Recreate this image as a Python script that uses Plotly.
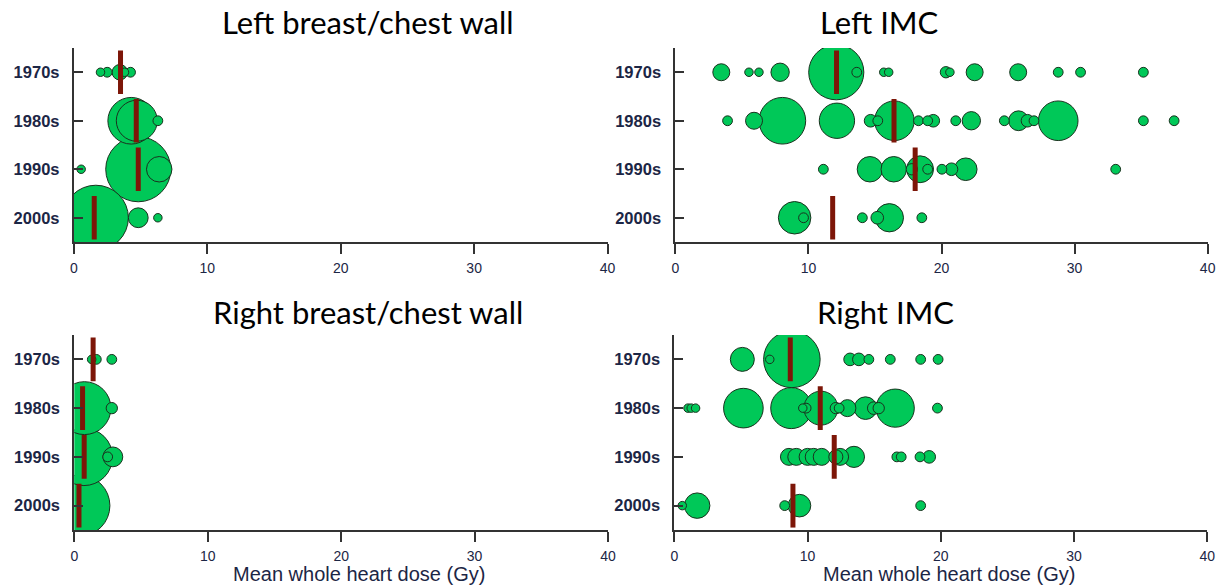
import plotly.graph_objects as go

# ---------------- data ----------------
DECADES = ["1970s", "1980s", "1990s", "2000s"]
X_TICKS = [0, 10, 20, 30, 40]
PANEL_TITLES = ["Left breast/chest wall", "Left IMC", "Right breast/chest wall", "Right IMC"]
X_TITLE = "Mean whole heart dose (Gy)"

# mean whole-heart dose per study (Gy), one list per decade, and relative study size
LBCW_DOSE = [[2.0, 2.5, 3.45, 3.8, 4.25],
             [4.3, 4.72, 6.3],
             [0.55, 4.83, 6.4],
             [1.65, 4.83, 6.3]]
LBCW_N = [[9, 12, 30, 9, 12],
          [272, 210, 12],
          [9, 529, 81],
          [529, 49, 9]]
LBCW_MEAN = [3.5, 4.68, 4.83, 1.53]

LIMC_DOSE = [[3.45, 5.53, 6.28, 7.87, 12.09, 13.63, 15.66, 16.03, 20.33, 20.63, 22.49, 25.76, 28.77, 30.45, 35.17],
             [3.92, 5.91, 8.04, 12.14, 14.67, 15.21, 16.46, 18.27, 18.96, 19.38, 21.07, 22.24, 24.72, 25.79, 26.46, 26.95, 28.77, 35.17, 37.48],
             [11.12, 14.62, 16.41, 17.77, 18.39, 18.96, 20.03, 20.75, 21.82, 33.09],
             [8.96, 9.63, 14.05, 15.17, 16.08, 18.52]]
LIMC_N = [[36, 9, 9, 42, 380, 12, 9, 9, 16, 9, 36, 36, 12, 12, 12],
          [12, 36, 272, 156, 20, 12, 196, 12, 12, 20, 12, 42, 12, 49, 20, 12, 196, 12, 12],
          [12, 81, 81, 16, 90, 12, 12, 20, 64, 12],
          [132, 12, 12, 20, 100, 12]]
LIMC_MEAN = [12.11, 16.43, 18.02, 11.82]

RBCW_DOSE = [[1.3, 1.65, 2.81],
             [0.76, 2.81],
             [0.72, 2.5, 2.89],
             [0.37]]
RBCW_N = [[9, 12, 12],
          [350, 16],
          [412, 12, 49],
          [470]]
RBCW_MEAN = [1.41, 0.62, 0.74, 0.35]

RIMC_DOSE = [[5.1, 7.16, 8.82, 13.19, 13.85, 14.6, 16.21, 18.49, 19.8],
             [1.02, 1.26, 1.59, 5.18, 8.77, 9.64, 9.89, 11.0, 12.12, 12.37, 12.99, 14.35, 14.97, 15.34, 16.58, 19.75],
             [8.6, 9.15, 10.0, 10.46, 11.06, 12.12, 12.44, 13.48, 16.7, 17.03, 18.44, 19.13],
             [0.59, 1.71, 8.28, 9.39, 18.49]]
RIMC_N = [[72, 9, 400, 20, 20, 12, 12, 12, 12],
          [9, 9, 9, 196, 210, 9, 12, 144, 16, 12, 36, 64, 20, 16, 182, 12],
          [36, 36, 36, 36, 36, 25, 36, 56, 12, 12, 12, 20],
          [9, 81, 12, 64, 12]]
RIMC_MEAN = [8.7, 10.95, 12.0, 8.9]

PANELS = [(LBCW_DOSE, LBCW_N, LBCW_MEAN),
          (LIMC_DOSE, LIMC_N, LIMC_MEAN),
          (RBCW_DOSE, RBCW_N, RBCW_MEAN),
          (RIMC_DOSE, RIMC_N, RIMC_MEAN)]

# ---------------- styling / layout ----------------
W, H = 1231, 587
GREEN = "rgb(0,200,88)"
EDGE = "rgb(25,50,30)"
BAR = "rgb(125,22,8)"
AXIS = "#333333"
TXT = "#1c2645"

# plot areas in pixels: (left, right, top, bottom)
AREAS = [(70.5, 609.5, 48, 242),
         (678, 1215.5, 48, 242),
         (71, 610, 335, 530),
         (677, 1215, 335, 530)]

fig = go.Figure()
layout = dict(width=W, height=H, margin=dict(l=0, r=0, t=0, b=0),
              paper_bgcolor="white", plot_bgcolor="white", showlegend=False)

ypos = {d: 3 - i for i, d in enumerate(DECADES)}

for p, ((doses, ns, means), (l, r, t, b)) in enumerate(zip(PANELS, AREAS)):
    k = "" if p == 0 else str(p + 1)
    xs, ys, ss = [], [], []
    for i, d in enumerate(DECADES):
        for x, n in zip(doses[i], ns[i]):
            xs.append(x); ys.append(ypos[d]); ss.append(n)
    order = sorted(range(len(ss)), key=lambda j: -ss[j])
    fig.add_trace(go.Scatter(
        x=[xs[j] for j in order], y=[ys[j] for j in order], mode="markers",
        marker=dict(size=[ss[j] for j in order], sizemode="area", sizeref=0.25,
                    color=GREEN, line=dict(color=EDGE, width=1), opacity=1),
        xaxis="x" + k, yaxis="y" + k, hoverinfo="x+y", cliponaxis=True))
    bx, by = [], []
    for i, d in enumerate(DECADES):
        bx += [means[i], means[i], None]
        by += [ypos[d] - 0.45, ypos[d] + 0.45, None]
    fig.add_trace(go.Scatter(x=bx, y=by, mode="lines",
                             line=dict(color=BAR, width=5),
                             xaxis="x" + k, yaxis="y" + k, hoverinfo="skip"))
    layout["xaxis" + k] = dict(
        domain=[l / W, r / W], anchor="y" + k, range=[0, 40], tickvals=X_TICKS,
        ticks="outside", ticklen=10, tickwidth=2, tickcolor=AXIS,
        showline=True, linewidth=2, linecolor=AXIS, showgrid=False, zeroline=False,
        tickfont=dict(family="Liberation Sans, Arial", size=14, color=TXT),
        ticklabelstandoff=2, fixedrange=True)
    layout["yaxis" + k] = dict(
        domain=[1 - b / H, 1 - t / H], anchor="x" + k, range=[-0.5, 3.5],
        tickvals=[ypos[d] for d in DECADES], ticktext=DECADES,
        ticks="inside", ticklen=9, tickwidth=2, tickcolor=AXIS,
        showline=True, linewidth=2, linecolor=AXIS, showgrid=False, zeroline=False,
        tickfont=dict(family="Liberation Sans, Arial", size=16.5, color=TXT, weight="bold"),
        ticklabelstandoff=9, fixedrange=True)

annotations = []
title_pos = [(368, 22), (884.5, 22), (368, 312), (890, 312)]
for text, (cx, cy) in zip(PANEL_TITLES, title_pos):
    annotations.append(dict(text=text, x=cx / W, y=1 - cy / H, xref="paper", yref="paper",
                            xanchor="center", yanchor="middle", showarrow=False,
                            font=dict(family="Lato, Carlito, Open Sans", size=31, color="black")))
for cx in (358, 954):
    annotations.append(dict(text=X_TITLE, x=cx / W, y=0, xref="paper", yref="paper",
                            xanchor="center", yanchor="bottom", showarrow=False,
                            font=dict(family="Liberation Sans, Arial", size=20, color=TXT)))
layout["annotations"] = annotations
fig.update_layout(**layout)
fig.write_html("out.html", config={"displayModeBar": False},
               post_script="document.body.style.margin='0';document.body.style.padding='0';"
                           "document.body.style.overflow='hidden';")
